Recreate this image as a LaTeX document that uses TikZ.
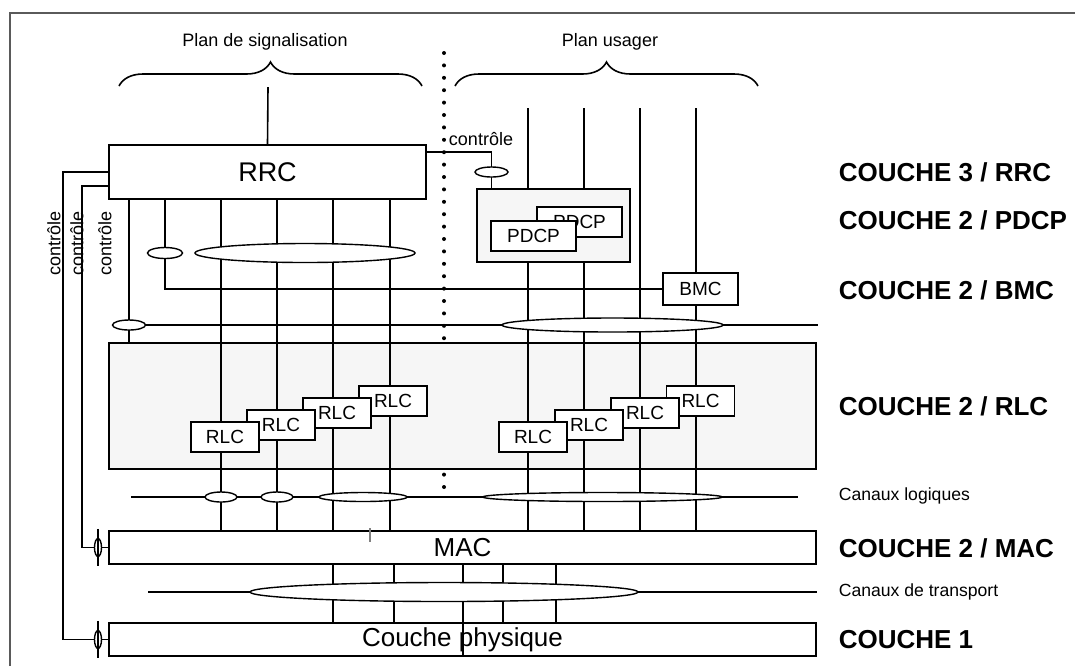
\documentclass[tikz,border=0pt]{standalone}
\usepackage{fontspec}
\setmainfont{Liberation Sans}
\usetikzlibrary{shapes.geometric,decorations.pathreplacing}

\definecolor{boxgray}{HTML}{F6F6F6}
\definecolor{framegray}{HTML}{5A5A5A}

\begin{document}
\begin{tikzpicture}[x=0.5pt, y=-0.5pt, line width=0.8pt,
	layer/.style={draw, rectangle, inner sep=0pt, font=\fontsize{13}{15}\selectfont},
	entity/.style={draw, fill=white, rectangle, inner sep=0pt, minimum width=34pt, minimum height=15pt, font=\fontsize{9.5}{11}\selectfont},
	chan/.style={draw, fill=white, ellipse, inner sep=0pt, line width=0.7pt, minimum height=5pt},
	tap/.style={draw, fill=white, ellipse, inner sep=0pt, line width=0.7pt, minimum width=3.5pt, minimum height=9pt},
	couche/.style={anchor=west, inner xsep=0pt, font=\fontsize{13}{15}\selectfont\bfseries},
	canal/.style={anchor=west, inner xsep=0pt, font=\fontsize{8.8}{10}\selectfont},
	small/.style={font=\fontsize{9}{11}\selectfont},
	plan/.style={decorate, decoration={brace, amplitude=12pt}}]
	\useasboundingbox (0,0) rectangle (1075,666);
	
	% Cadre
	\draw [framegray, line width=1pt] (10,666) -- (10,13) -- (1075,13);
	
	% Abscisses des canaux
	\coordinate (sg1) at (221,0);
	\coordinate (sg2) at (277,0);
	\coordinate (sg3) at (333,0);
	\coordinate (sg4) at (390,0);
	\coordinate (us1) at (528,0);
	\coordinate (us2) at (584,0);
	\coordinate (us3) at (640,0);
	\coordinate (us4) at (696,0);
	\coordinate (tr1) at (333,0);
	\coordinate (tr2) at (394,0);
	\coordinate (tr3) at (463,0);
	\coordinate (tr4) at (503,0);
	\coordinate (tr5) at (556,0);
	\coordinate (rlcx) at (129,0);
	\coordinate (bmcx) at (165,0);
	\coordinate (pdcpx) at (491.5,0);
	\coordinate (ctlA) at (63,0);
	\coordinate (ctlB) at (82,0);
	\coordinate (tapx) at (98,0);
	\coordinate (utop) at (0,108);
	\coordinate (sigbr) at (268,87);
	\coordinate (bs1) at (818,325);
	\coordinate (lg0) at (131,497);
	\coordinate (lg1) at (798,497);
	\coordinate (tp0) at (148,592);
	\coordinate (tp1) at (817,592);
	\coordinate (tick0) at (370,528);
	\coordinate (tick1) at (370,542);
	\coordinate (dv0) at (444,53);
	\coordinate (dv1) at (444,487);
	
	% Plans
	\node [small] (sig) at (265,42) {Plan de signalisation};
	\node [small] (usr) at (610,42) {Plan usager};
	\draw [plan] (119,86) -- (422,86);
	\draw [plan] (455,86) -- (758,86);
	\draw [line width=2pt, line cap=round, dash pattern=on 0pt off 6.2pt] (dv0) -- (dv1);
	
	% Couches
	\node [layer, minimum width=158.5pt, minimum height=27pt, font=\fontsize{13.5}{15}\selectfont] (rrc) at (267.5,172) {RRC};
	\node [layer, fill=boxgray, minimum width=76.5pt, minimum height=36.5pt] (pdcp) at (553.5,225.5) {};
	\node [layer, fill=boxgray, minimum width=353.5pt, minimum height=63pt] (rlc) at (462.5,406) {};
	\node [layer, minimum width=353.5pt, minimum height=16.5pt] (mac) at (462.5,547.5) {MAC};
	\node [layer, minimum width=353.5pt, minimum height=16.5pt] (phy) at (462.5,639.5) {Couche physique};
	\node [entity, minimum width=37.5pt, minimum height=16pt] (bmc) at (700.5,289) {BMC};
	
	% Liaisons
	\draw (sigbr) -- (rrc.north);
	\foreach \c in {sg1,sg2,sg3,sg4}
		\draw (rrc.south -| \c) -- (mac.north -| \c);
	\foreach \c in {us1,us2} {
		\draw (utop -| \c) -- (pdcp.north -| \c);
		\draw (pdcp.south -| \c) -- (mac.north -| \c);
	}
	\draw (utop -| us3) -- (mac.north -| us3);
	\draw (utop -| us4) -- (bmc.north -| us4);
	\draw (bmc.south -| us4) -- (mac.north -| us4);
	\draw (rrc.west) -| (ctlA |- phy.west) -- (phy.west);
	\draw ([yshift=-7pt]rrc.west) -| (ctlB |- mac.west) -- (mac.west);
	\draw (rrc.south -| rlcx) -- (rlc.north -| rlcx);
	\draw (rrc.south -| bmcx) |- (bmc.west);
	\draw ([yshift=-4pt]rrc.north east) -| (pdcp.north -| pdcpx);
	\draw (rlcx |- bs1) -- (bs1);
	\draw (lg0) -- (lg1);
	\draw (tp0) -- (tp1);
	\foreach \c in {tr1,tr2,tr3,tr4,tr5}
		\draw (mac.south -| \c) -- (phy.north -| \c);
	\draw (phy.north -| tr3) -- (phy.south -| tr3);
	\draw [gray, line width=1pt] (tick0) -- (tick1);
	
	% Canaux
	\node [chan, minimum width=16.5pt] (pc) at (491.5,172) {};
	\node [chan, minimum width=17.5pt, minimum height=5.5pt] (sb) at (165,253) {};
	\node [chan, minimum width=110pt, minimum height=9.5pt] (sa) at (305,253) {};
	\node [chan, minimum width=16.5pt] (rb) at (129,325) {};
	\node [chan, minimum width=110.5pt, minimum height=7pt] (ub) at (612.5,325) {};
	\node [chan, minimum width=16pt] (lga) at (221,497) {};
	\node [chan, minimum width=16pt] (lgb) at (277,497) {};
	\node [chan, minimum width=44pt, minimum height=4.5pt] (lgc) at (363,497) {};
	\node [chan, minimum width=119.5pt, minimum height=4.5pt] (lgd) at (602.5,497) {};
	\node [chan, minimum width=194pt, minimum height=9.5pt] (tpa) at (444,592) {};
	\node [tap] (tpm) at (tapx |- mac.west) {};
	\node [tap] (tpp) at (tapx |- phy.west) {};
	\draw ([yshift=4.5pt]tpm.north) -- ([yshift=-4.5pt]tpm.south);
	\draw ([yshift=4.5pt]tpp.north) -- ([yshift=-4.5pt]tpp.south);
	
	% Entites
	\foreach \i/\x/\y in {4/393/401, 3/337/413, 2/281/425, 1/225/437}
		\node [entity] (rlcs\i) at (\x,\y) {RLC};
	\foreach \i/\x/\y in {4/700.5/401, 3/645/413, 2/589/425, 1/533/437}
		\node [entity] (rlcu\i) at (\x,\y) {RLC};
	\node [entity, minimum width=42.5pt] (pdcpb) at (579.5,222) {PDCP};
	\node [entity, minimum width=42.5pt] (pdcpa) at (533.5,236) {PDCP};
	
	% Etiquettes
	\node [small] (ctl) at (481,139) {contrôle};
	\node [small, rotate=90] (ctla) at (54,243) {contrôle};
	\node [small, rotate=90] (ctlb) at (77,243) {contrôle};
	\node [small, rotate=90] (ctlc) at (105,243) {contrôle};
	\node [couche] (n3) at (838,172) {COUCHE 3 / RRC};
	\node [couche] (n2p) at (838,220) {COUCHE 2 / PDCP};
	\node [couche] (n2b) at (838,290) {COUCHE 2 / BMC};
	\node [couche] (n2r) at (838,406) {COUCHE 2 / RLC};
	\node [canal] (nlg) at (838,496) {Canaux logiques};
	\node [couche] (n2m) at (838,548) {COUCHE 2 / MAC};
	\node [canal] (ntp) at (838,592) {Canaux de transport};
	\node [couche] (n1) at (838,640) {COUCHE 1};
\end{tikzpicture}
\end{document}
